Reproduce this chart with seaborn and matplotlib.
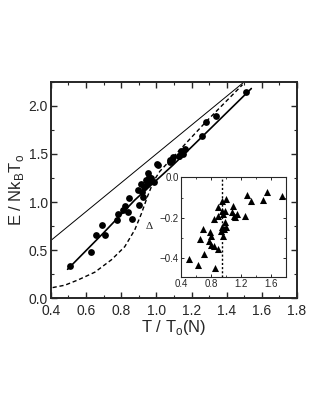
import numpy as np
import pandas as pd
import matplotlib
matplotlib.use("Agg")
import matplotlib.pyplot as plt
from matplotlib.ticker import MultipleLocator
import seaborn as sns

# 主图数据：实验点 E / NkT0 与 T / T0(N)
main_T = [0.508, 0.627, 0.657, 0.688, 0.707, 0.775, 0.782, 0.81, 0.82, 0.836,
          0.843, 0.862, 0.893, 0.90, 0.911, 0.919, 0.925, 0.93, 0.94, 0.945,
          0.95, 0.957, 0.96, 0.972, 0.987, 1.006, 1.01, 1.076, 1.08, 1.09,
          1.095, 1.127, 1.13, 1.14, 1.15, 1.16, 1.262, 1.285, 1.34, 1.508]
main_E = [0.336, 0.48, 0.656, 0.764, 0.656, 0.81, 0.88, 0.917, 0.96, 0.90,
          1.04, 0.826, 1.125, 0.97, 1.19, 1.10, 1.055, 1.16, 1.23, 1.19,
          1.30, 1.26, 1.22, 1.245, 1.21, 1.39, 1.385, 1.42, 1.44, 1.44,
          1.47, 1.48, 1.48, 1.53, 1.50, 1.55, 1.69, 1.83, 1.89, 2.14]

# 经典直线 (细实线)
classic_T = [0.4, 1.52]
classic_E = [0.6, 2.28]

# 理论曲线 (虚线)
theory_T = [0.41, 0.48, 0.555, 0.65, 0.745, 0.82, 0.877, 0.915, 0.95, 0.985,
            1.02, 1.285, 1.49]
theory_E = [0.11, 0.135, 0.19, 0.27, 0.40, 0.535, 0.71, 0.88, 1.06, 1.22,
            1.32, 1.84, 2.22]

# 拟合曲线 (粗实线)
fit_T = [0.495, 0.7, 0.877, 1.095, 1.3, 1.54]
fit_E = [0.30, 0.68, 1.02, 1.385, 1.75, 2.18]

# 插图数据：Delta 与 T / T0
ins_T = [0.511, 0.631, 0.855, 0.711, 0.654, 0.698, 0.788, 0.80, 0.774, 0.80,
         0.845, 0.899, 0.845, 0.899, 0.944, 0.935, 0.98, 0.988, 0.899, 0.944,
         0.966, 0.988, 0.944, 0.998, 1.099, 1.078, 1.113, 1.145, 1.122, 1.256,
         1.278, 1.336, 1.50, 1.546, 1.746, 0.966, 1.0]
ins_D = [-0.404, -0.434, -0.446, -0.38, -0.305, -0.256, -0.269, -0.289, -0.314, -0.335,
         -0.338, -0.355, -0.206, -0.19, -0.247, -0.264, -0.256, -0.222, -0.148, -0.165,
         -0.181, -0.165, -0.115, -0.107, -0.143, -0.173, -0.19, -0.181, -0.198, -0.193,
         -0.087, -0.115, -0.112, -0.073, -0.093, -0.289, -0.247]
tc_line = 0.944

sns.set_style("ticks")
plt.rcParams['font.family'] = ['Liberation Sans', 'DejaVu Sans']
plt.rcParams['xtick.direction'] = 'in'
plt.rcParams['ytick.direction'] = 'in'

fig = plt.figure(figsize=(3.16, 4.09), dpi=100)
ax = fig.add_axes([0.161, 0.271, 0.779, 0.529])

sns.lineplot(x=classic_T, y=classic_E, ax=ax, color='black', lw=0.7,
             sort=False, estimator=None)
sns.lineplot(x=theory_T, y=theory_E, ax=ax, color='black', lw=1.0,
             linestyle=(0, (3, 2)), sort=False, estimator=None)
sns.lineplot(x=fit_T, y=fit_E, ax=ax, color='black', lw=1.2,
             sort=False, estimator=None)
sns.scatterplot(x=main_T, y=main_E, ax=ax, color='black', s=24,
                marker='o', edgecolor='black', linewidth=0, zorder=5)

ax.set_xlim(0.4, 1.8)
ax.set_ylim(0.0, 2.25)
ax.xaxis.set_major_locator(MultipleLocator(0.2))
ax.xaxis.set_minor_locator(MultipleLocator(0.1))
ax.yaxis.set_major_locator(MultipleLocator(0.5))
ax.yaxis.set_minor_locator(MultipleLocator(0.25))
ax.tick_params(which='both', top=True, right=True, labelsize=10, pad=2)
ax.tick_params(axis='x', pad=4.5)
ax.tick_params(which='major', length=4, width=1)
ax.tick_params(which='minor', length=2.5, width=0.8)
for sp in ax.spines.values():
    sp.set_linewidth(1.4)
ax.set_xlabel(r'T / T$_\mathregular{o}$(N)', fontsize=12, labelpad=0)
ax.set_ylabel(r'E / Nk$_\mathregular{B}$T$_\mathregular{o}$', fontsize=12, labelpad=2)

# 插图
axin = fig.add_axes([0.573, 0.3235, 0.331, 0.243])
axin.axvline(tc_line, color='black', lw=1.0, linestyle=(0, (1.5, 1.5)))
sns.scatterplot(x=ins_T, y=ins_D, ax=axin, color='black', s=26,
                marker='^', edgecolor='black', linewidth=0, zorder=5)
axin.set_xlim(0.4, 1.8)
axin.set_ylim(-0.49, 0.0)
axin.xaxis.set_major_locator(MultipleLocator(0.4))
axin.xaxis.set_minor_locator(MultipleLocator(0.2))
axin.yaxis.set_major_locator(MultipleLocator(0.2))
axin.yaxis.set_minor_locator(MultipleLocator(0.1))
axin.tick_params(which='both', top=True, right=True, labelsize=7, pad=1.5)
axin.tick_params(which='major', length=2.5, width=0.7)
axin.tick_params(which='minor', length=1.5, width=0.6)
for sp in axin.spines.values():
    sp.set_linewidth(0.8)
axin.set_ylabel('Δ', fontsize=8, family=['Liberation Serif', 'DejaVu Serif'],
                rotation=0, labelpad=8, va='center')

fig.savefig('out.png', dpi=100)
